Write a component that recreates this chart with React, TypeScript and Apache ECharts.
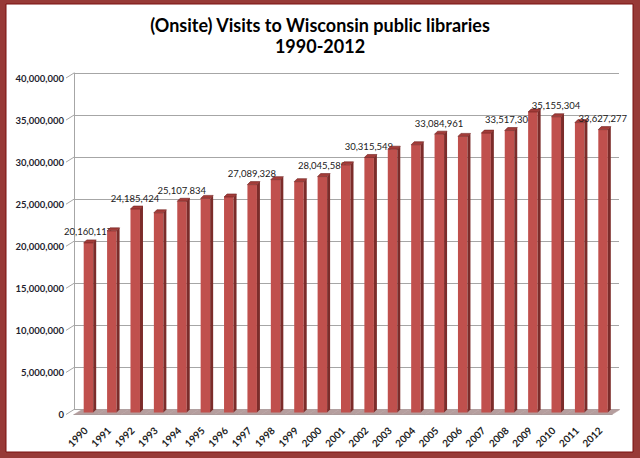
import React, { useEffect, useRef } from "react";
import * as echarts from "echarts";

const years = [
  "1990", "1991", "1992", "1993", "1994", "1995", "1996", "1997", "1998", "1999", "2000", "2001",
  "2002", "2003", "2004", "2005", "2006", "2007", "2008", "2009", "2010", "2011", "2012",
];

const visits = [
  20160117, 21590000, 24185424, 23740000, 25107834, 25450000, 25620000, 27089328, 27680000,
  27440000, 28045588, 29440000, 30315549, 31300000, 31830000, 33084961, 32820000, 33210000,
  33517304, 35720000, 35155304, 34460000, 33627277,
];

const labeledYears = ["1990", "1992", "1994", "1997", "2000", "2002", "2005", "2008", "2010", "2012"];

const yTickValues = [0, 5000000, 10000000, 15000000, 20000000, 25000000, 30000000, 35000000, 40000000];

const titleText = "(Onsite) Visits to Wisconsin public libraries\n1990-2012";

const FONT = "Lato, 'Noto Sans', sans-serif";

const fmt = (v: number) => String(Math.round(v)).replace(/\B(?=(\d{3})+(?!\d))/g, ",");

export default function App() {
  const ref = useRef<HTMLDivElement>(null);

  useEffect(() => {
    document.body.style.margin = "0";
    if (!ref.current) return;
    const chart = echarts.init(ref.current, undefined, { renderer: "svg" });

    const yMin = yTickValues[0];
    const yMax = yTickValues[yTickValues.length - 1];
    const yInt = yTickValues[1] - yTickValues[0];

    const floorData = years.map((_, i) => [i, 0]);
    const barData = visits.map((v, i) => [i, v]);

    const option: any = {
      animation: false,
      backgroundColor: "#973a37",
      title: {
        text: titleText,
        left: "center",
        top: 9,
        textStyle: {
          fontFamily: FONT,
          fontWeight: "bold",
          fontSize: 18,
          lineHeight: 21,
          color: "#000",
        },
      },
      graphic: [
        {
          type: "rect",
          z: -1,
          silent: true,
          shape: { x: 6, y: 4, width: 627, height: 448 },
          style: { fill: "#ffffff", stroke: "#7a1010", lineWidth: 1 },
        },
      ],
      grid: [
        { left: 74, right: 21, top: 73, bottom: 48.5 },
        { left: 78, right: 24, top: 73, bottom: 48.5 },
        { left: 74, right: 28, top: 78, bottom: 43.5 },
      ],
      xAxis: [
        { gridIndex: 0, type: "category", data: years, show: false },
        { gridIndex: 1, type: "category", data: years, show: false },
        {
          gridIndex: 2,
          type: "category",
          data: years,
          axisLine: { lineStyle: { color: "#8c8c8c" } },
          axisTick: { length: 5, lineStyle: { color: "#8c8c8c" } },
          axisLabel: {
            rotate: 45,
            margin: 14,
            fontSize: 10,
            fontWeight: "bold",
            fontFamily: FONT,
            color: "#1f1f1f",
          },
        },
      ],
      yAxis: [
        {
          gridIndex: 0,
          type: "value",
          min: yMin,
          max: yMax,
          interval: yInt,
          axisLine: { show: true, lineStyle: { color: "#a6a6a6" } },
          axisTick: { show: false },
          axisLabel: { show: false },
          splitLine: { lineStyle: { color: "#a6a6a6" } },
        },
        { gridIndex: 1, type: "value", min: yMin, max: yMax, interval: yInt, show: false, splitLine: { show: false } },
        {
          gridIndex: 2,
          type: "value",
          min: yMin,
          max: yMax,
          interval: yInt,
          axisLine: { show: false },
          axisTick: { show: false },
          splitLine: { show: false },
          axisLabel: {
            margin: 10,
            fontSize: 9.5,
            fontWeight: "bold",
            fontFamily: FONT,
            color: "#1f1f2f",
            formatter: (v: number) => fmt(v),
          },
        },
      ],
      series: [
        {
          type: "custom",
          xAxisIndex: 1,
          yAxisIndex: 1,
          z: 1,
          silent: true,
          data: floorData,
          renderItem: (params: any, api: any) => {
            const i = api.value(0);
            const p0 = api.coord([i, 0]);
            const w = api.size([1, 0])[0];
            const cx = p0[0];
            const y0 = p0[1];
            const children: any[] = [
              {
                type: "polygon",
                shape: {
                  points: [
                    [cx - w / 2 + 4, y0],
                    [cx + w / 2 + 4, y0],
                    [cx + w / 2 - 4, y0 + 5],
                    [cx - w / 2 - 4, y0 + 5],
                  ],
                },
                style: { fill: "#b59e9e", stroke: "#b59e9e", lineWidth: 0.5 },
              },
            ];
            if (params.dataIndex === 0) {
              const xw = cx - w / 2 - 4;
              yTickValues.forEach((t) => {
                const yt = api.coord([i, t])[1];
                children.push({
                  type: "line",
                  shape: { x1: xw - 8, y1: yt + 5, x2: xw, y2: yt },
                  style: { stroke: "#a6a6a6", lineWidth: 1 },
                });
              });
            }
            return { type: "group", children };
          },
        },
        {
          type: "custom",
          xAxisIndex: 1,
          yAxisIndex: 1,
          z: 3,
          silent: true,
          data: barData,
          renderItem: (params: any, api: any) => {
            const i = api.value(0);
            const v = api.value(1);
            const p = api.coord([i, v]);
            const p0 = api.coord([i, 0]);
            const cx = p[0];
            const yv = p[1];
            const y0 = p0[1];
            const fl = cx - 6;
            const fr = cx + 3.5;
            const d = 3;
            const children: any[] = [
              {
                type: "rect",
                shape: { x: fl, y: yv + d, width: fr - fl, height: y0 - yv },
                style: { fill: "#c0504d" },
              },
              {
                type: "polygon",
                shape: {
                  points: [
                    [fr, yv + d],
                    [fr + d, yv],
                    [fr + d, y0],
                    [fr, y0 + d],
                  ],
                },
                style: { fill: "#7c2c2a" },
              },
              {
                type: "polygon",
                shape: {
                  points: [
                    [fl, yv + d],
                    [fr, yv + d],
                    [fr + d, yv],
                    [fl + d, yv],
                  ],
                },
                style: { fill: "#a33c39", stroke: "#6e1f1d", lineWidth: 0.6 },
              },
            ];
            if (labeledYears.indexOf(years[i]) >= 0) {
              children.push({
                type: "text",
                style: {
                  text: fmt(v),
                  x: cx - 1.5,
                  y: yv - 3,
                  align: "center",
                  verticalAlign: "bottom",
                  fontFamily: FONT,
                  fontSize: 9.5,
                  fill: "#1a1a1a",
                },
              });
            }
            return { type: "group", children };
          },
        },
      ],
    };

    chart.setOption(option);
    return () => chart.dispose();
  }, []);

  return (
    <div
      ref={ref}
      style={{ position: "absolute", left: 0, top: 0, width: 640, height: 458 }}
    />
  );
}
